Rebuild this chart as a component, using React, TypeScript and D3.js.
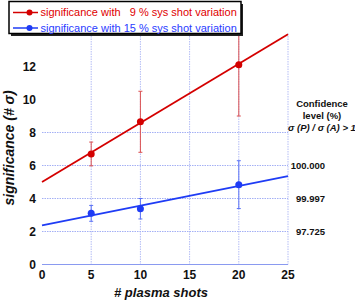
import React from "react";
import * as d3 from "d3";

const shots = [5, 10, 20];
const redSig = [6.7, 8.65, 12.1];
const redErr = [0.72, 1.85, 3.1];
const blueSig = [3.1, 3.38, 4.84];
const blueErr = [0.48, 0.62, 1.45];
const fitX = [0, 25];
const redFit = [5.0, 13.95];
const blueFit = [2.37, 5.36];
const xTicks = [0, 5, 10, 15, 20, 25];
const yTicks = [0, 2, 4, 6, 8, 10, 12];
const hGrid = [0, 2, 4, 6, 8];
const vGrid = [5, 10, 15, 20, 25];
const confTicks = [6, 4, 2];
const confLabels = ["100.000", "99.997", "97.725"];
const legendLabels = ["significance with   9 % sys shot variation", "significance with 15 % sys shot variation"];

const W = 355, H = 302;
const x = d3.scaleLinear().domain([0, 25]).range([42, 288]);
const y = d3.scaleLinear().domain([0, 14]).range([264.5, 33.5]);

const RED = "#d40000";
const BLUE = "#1f3cf5";

function Series({ ys, errs, fit, color, errColor }: any) {
  const line = d3.line<number>().x((_, i) => x(fitX[i])).y((v) => y(v));
  return (
    <g>
      {shots.map((s, i) => {
        const top = Math.min(14, ys[i] + errs[i]);
        const bot = ys[i] - errs[i];
        return (
          <g key={i}>
            <line x1={x(s)} x2={x(s)} y1={y(top)} y2={y(bot)} stroke={errColor} strokeWidth={1} />
            {ys[i] + errs[i] <= 14 && (
              <line x1={x(s) - 2} x2={x(s) + 2} y1={y(top)} y2={y(top)} stroke={errColor} strokeWidth={1} />
            )}
            <line x1={x(s) - 2} x2={x(s) + 2} y1={y(bot)} y2={y(bot)} stroke={errColor} strokeWidth={1} />
          </g>
        );
      })}
      <path d={line(fit) || ""} stroke={color} strokeWidth={1.8} fill="none" />
      {shots.map((s, i) => (
        <circle key={i} cx={x(s)} cy={y(ys[i])} r={3.5} fill={color} />
      ))}
    </g>
  );
}

export default function App() {
  const font = "Liberation Sans, Arial, Helvetica, sans-serif";
  return (
    <svg width={W} height={H} style={{ position: "absolute", left: 0, top: 0, background: "#fff" }} fontFamily={font}>
      <rect width={W} height={H} fill="#fff" />
      {/* grid */}
      {vGrid.map((v) => (
        <line key={"v" + v} x1={x(v)} x2={x(v)} y1={y(14)} y2={y(0)} stroke="#b4bdf5" strokeWidth={1} strokeDasharray="1.5,1" />
      ))}
      {hGrid.map((v) => (
        <line key={"h" + v} x1={x(0)} x2={x(25)} y1={y(v)} y2={y(v)} stroke={v === 0 ? "#8a9af0" : "#a4b0f5"} strokeWidth={1} strokeDasharray={v === 0 ? "" : "1.5,1"} />
      ))}
      {/* tick labels */}
      {yTicks.map((t) => (
        <text key={"yt" + t} x={36} y={y(t)} dy="0.36em" textAnchor="end" fontSize={12} fontWeight="bold" fill="#111">{t}</text>
      ))}
      {xTicks.map((t) => (
        <text key={"xt" + t} x={x(t)} y={278.5} textAnchor="middle" fontSize={12} fontWeight="bold" fill="#111">{t}</text>
      ))}
      {confTicks.map((t, i) => (
        <text key={"ct" + t} x={325} y={y(t)} dy="0.36em" textAnchor="end" fontSize={9.5} fontWeight="bold" fill="#111">{confLabels[i]}</text>
      ))}
      <text x={322} y={106.5} textAnchor="middle" fontSize={9.5} fontWeight="bold" fill="#111">Confidence</text>
      <text x={322} y={118.5} textAnchor="middle" fontSize={9.5} fontWeight="bold" fill="#111">level (%)</text>
      <text x={322} y={130.5} textAnchor="middle" fontSize={9.5} fontWeight="bold" fontStyle="italic" fill="#111">σ (P) / σ (A) &gt; 1</text>
      {/* axis titles */}
      <text x={161} y={297} textAnchor="middle" fontSize={13} fontWeight="bold" fontStyle="italic" fill="#111"># plasma shots</text>
      <text transform={`translate(14,148) rotate(-90)`} textAnchor="middle" fontSize={14} fontWeight="bold" fontStyle="italic" fill="#111">significance  (# σ)</text>
      {/* series */}
      <Series ys={blueSig} errs={blueErr} fit={blueFit} color={BLUE} errColor="#5a72f5" />
      <Series ys={redSig} errs={redErr} fit={redFit} color={RED} errColor="#dc5050" />
      {/* legend */}
      <rect x={11} y={4} width={232} height={32} fill="#222" />
      <rect x={9} y={1.5} width={232} height={32} fill="#fff" stroke="#000" strokeWidth={1.5} />
      {[RED, BLUE].map((c, i) => {
        const ly = 12.5 + i * 15.5;
        return (
          <g key={i}>
            <line x1={13} x2={38} y1={ly} y2={ly} stroke={c} strokeWidth={1.5} />
            <circle cx={29.5} cy={ly} r={3} fill={c} />
            <text x={40.5} y={ly} dy="0.36em" fontSize={11} fill={i === 0 ? "#e00000" : "#2a3cff"} style={{ whiteSpace: "pre" }}>{legendLabels[i]}</text>
          </g>
        );
      })}
    </svg>
  );
}
